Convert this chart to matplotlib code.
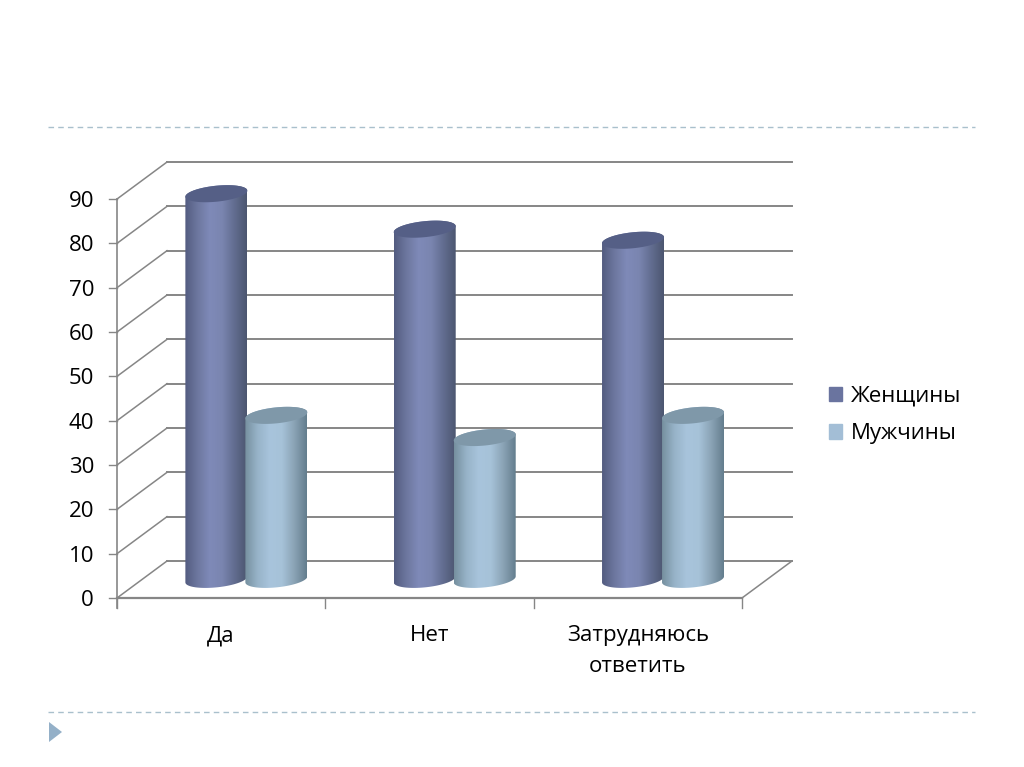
import numpy as np
import matplotlib
matplotlib.use('Agg')
import matplotlib.pyplot as plt
from matplotlib.colors import LinearSegmentedColormap
from matplotlib.lines import Line2D
from matplotlib.patches import Patch, Polygon

categories = ['Да', 'Нет', 'Затрудняюсь\nответить']
women = [87, 79, 76.5]
men = [37, 32, 37]
y_ticks = [0, 10, 20, 30, 40, 50, 60, 70, 80, 90]

plt.rcParams['font.family'] = ['Open Sans', 'DejaVu Sans']

W, H = 1024, 767
GRID = '#868686'
FONT = 16

# the axes fill the figure, data units are categories (x) and values (y)
px_x = 208.33
px_y = 4.433
x0, y0 = 117, 598
depth_x = 50 / px_x
depth_y = 37 / px_y

fig = plt.figure(figsize=(W / 100, H / 100), dpi=100)
ax = fig.add_axes([0, 0, 1, 1])
ax.set_xlim(-x0 / px_x, (W - x0) / px_x)
ax.set_ylim((y0 - H) / px_y, y0 / px_y)
ax.axis('off')

n = len(categories)


def ellipse(cx, cy, t):
    a = 31 / px_x
    b = 8 / px_y
    tilt = 3 / px_y
    return cx + a * np.cos(t), cy + b * np.sin(t) + tilt * np.cos(t)


def cylinder(cx, value, body, top, z):
    base = 4.2
    height = base + value
    tb = np.linspace(np.pi, 2 * np.pi, 60)
    tt = np.linspace(0, np.pi, 60)
    xb, yb = ellipse(cx, base, tb)
    xt, yt = ellipse(cx, height, tt)
    outline = np.column_stack([np.r_[xb, xt], np.r_[yb, yt]])
    clip = Polygon(outline, closed=True, fc='none', ec='none', transform=ax.transData)
    ax.add_patch(clip)
    cmap = LinearSegmentedColormap.from_list('c', body)
    grad = np.linspace(0, 1, 128).reshape(1, -1)
    a = 31 / px_x
    im = ax.imshow(grad, cmap=cmap, aspect='auto', zorder=z,
                   extent=(cx - a, cx + a, base - 3, height + 3))
    im.set_clip_path(clip)
    tf = np.linspace(0, 2 * np.pi, 120)
    xf, yf = ellipse(cx, height, tf)
    ax.fill(xf, yf, color=top, zorder=z + 0.1, lw=0)


# walls
for v in y_ticks:
    ax.plot([depth_x, n + depth_x], [v + depth_y, v + depth_y], color=GRID, lw=1.4, zorder=1)
    ax.plot([0, depth_x], [v, v + depth_y], color=GRID, lw=1.1, zorder=1)
    ax.plot([-8 / px_x, 0], [v, v], color=GRID, lw=1.0, zorder=1)
    ax.text(-23 / px_x, v - 2.5 / px_y, str(v), ha='right', va='center', fontsize=FONT, color='black')
ax.plot([n, n + depth_x], [0, depth_y], color=GRID, lw=1.1, zorder=1)
ax.plot([0, 0], [-10 / px_y, 90], color=GRID, lw=1.2, zorder=1)
ax.plot([0, n], [0, 0], color=GRID, lw=1.6, zorder=1)
for i in range(n + 1):
    ax.plot([i, i], [-10 / px_y, 0], color=GRID, lw=1.0, zorder=1)

women_body = ['#535c80', '#6d779f', '#7f8ab8', '#7a85b0', '#626d90', '#4c5670']
men_body = ['#76909f', '#97b3c8', '#a8c4dc', '#a6c2d8', '#8aa3b5', '#647e8e']
for i in range(n):
    cylinder(i + 0.477, women[i], women_body, '#555f86', 3 + i)
    cylinder(i + 0.765, men[i], men_body, '#7f98a9', 3.5 + i)
    ax.text(i + 0.5, -27 / px_y, categories[i], ha='center', va='top', fontsize=FONT,
            color='black', linespacing=1.6)

handles = [Patch(color='#6a749f'), Patch(color='#a3bed6')]
fig.legend(handles, ['Женщины', 'Мужчины'], frameon=False, fontsize=FONT,
           loc='center left', bbox_to_anchor=(809 / W, 1 - 415 / H),
           handlelength=0.6, handleheight=0.6, handletextpad=0.4, labelspacing=0.75)

# slide decoration
for py in (127, 712):
    fig.add_artist(Line2D([48 / W, 975 / W], [1 - py / H, 1 - py / H], color='#a9c0cc',
                          lw=1.0, ls=(0, (4, 3))))
fig.add_artist(Polygon([(49 / W, 1 - 722 / H), (49 / W, 1 - 742 / H), (62 / W, 1 - 732 / H)],
                       closed=True, fc='#94b0c8', ec='none', transform=fig.transFigure))

fig.savefig('out.png', dpi=100)
